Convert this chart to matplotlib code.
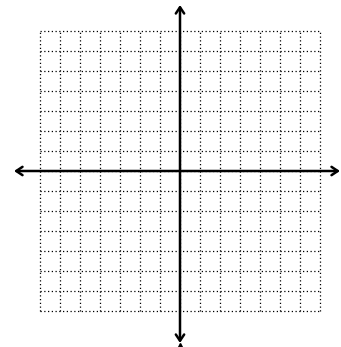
import matplotlib
matplotlib.use("Agg")
import matplotlib.pyplot as plt

# ---- data ------------------------------------------------------------------------------
grid_x = [-7, -6, -5, -4, -3, -2, -1, 0, 1, 2, 3, 4, 5, 6, 7]
grid_y = [-7, -6, -5, -4, -3, -2, -1, 0, 1, 2, 3, 4, 5, 6, 7]
x_arrow = (-8.3, 8.0)     # ends of the horizontal axis arrow
y_arrow = (-8.6, 8.3)     # ends of the vertical axis arrow

# ---- figure ----------------------------------------------------------------------------
fig = plt.figure(figsize=(3.41, 3.47), dpi=100)
ax = fig.add_axes([0, 0, 1, 1])
ax.set_xlim(-9.0, 8.05)
ax.set_ylim(-8.8, 8.55)
ax.axis("off")

lo, hi = min(grid_x), max(grid_x)
for v in grid_x:
    ax.plot([v, v], [min(grid_y), max(grid_y)], color="black", lw=0.9,
            ls=(0, (1, 2)), zorder=1)
for v in grid_y:
    ax.plot([lo, hi], [v, v], color="black", lw=0.9, ls=(0, (1, 2)), zorder=1)

arrow = dict(arrowstyle="<->,head_length=0.45,head_width=0.3", color="black",
             lw=1.8, shrinkA=0, shrinkB=0)
ax.annotate("", xy=(x_arrow[1], 0), xytext=(x_arrow[0], 0), arrowprops=arrow, zorder=3)
ax.annotate("", xy=(0, y_arrow[1]), xytext=(0, y_arrow[0]), arrowprops=arrow, zorder=3)
# small clipped tip under the bottom arrow
ax.plot(0, -8.75, marker="^", ms=5, color="black", zorder=3, clip_on=False)

fig.savefig("out.png", dpi=100)
